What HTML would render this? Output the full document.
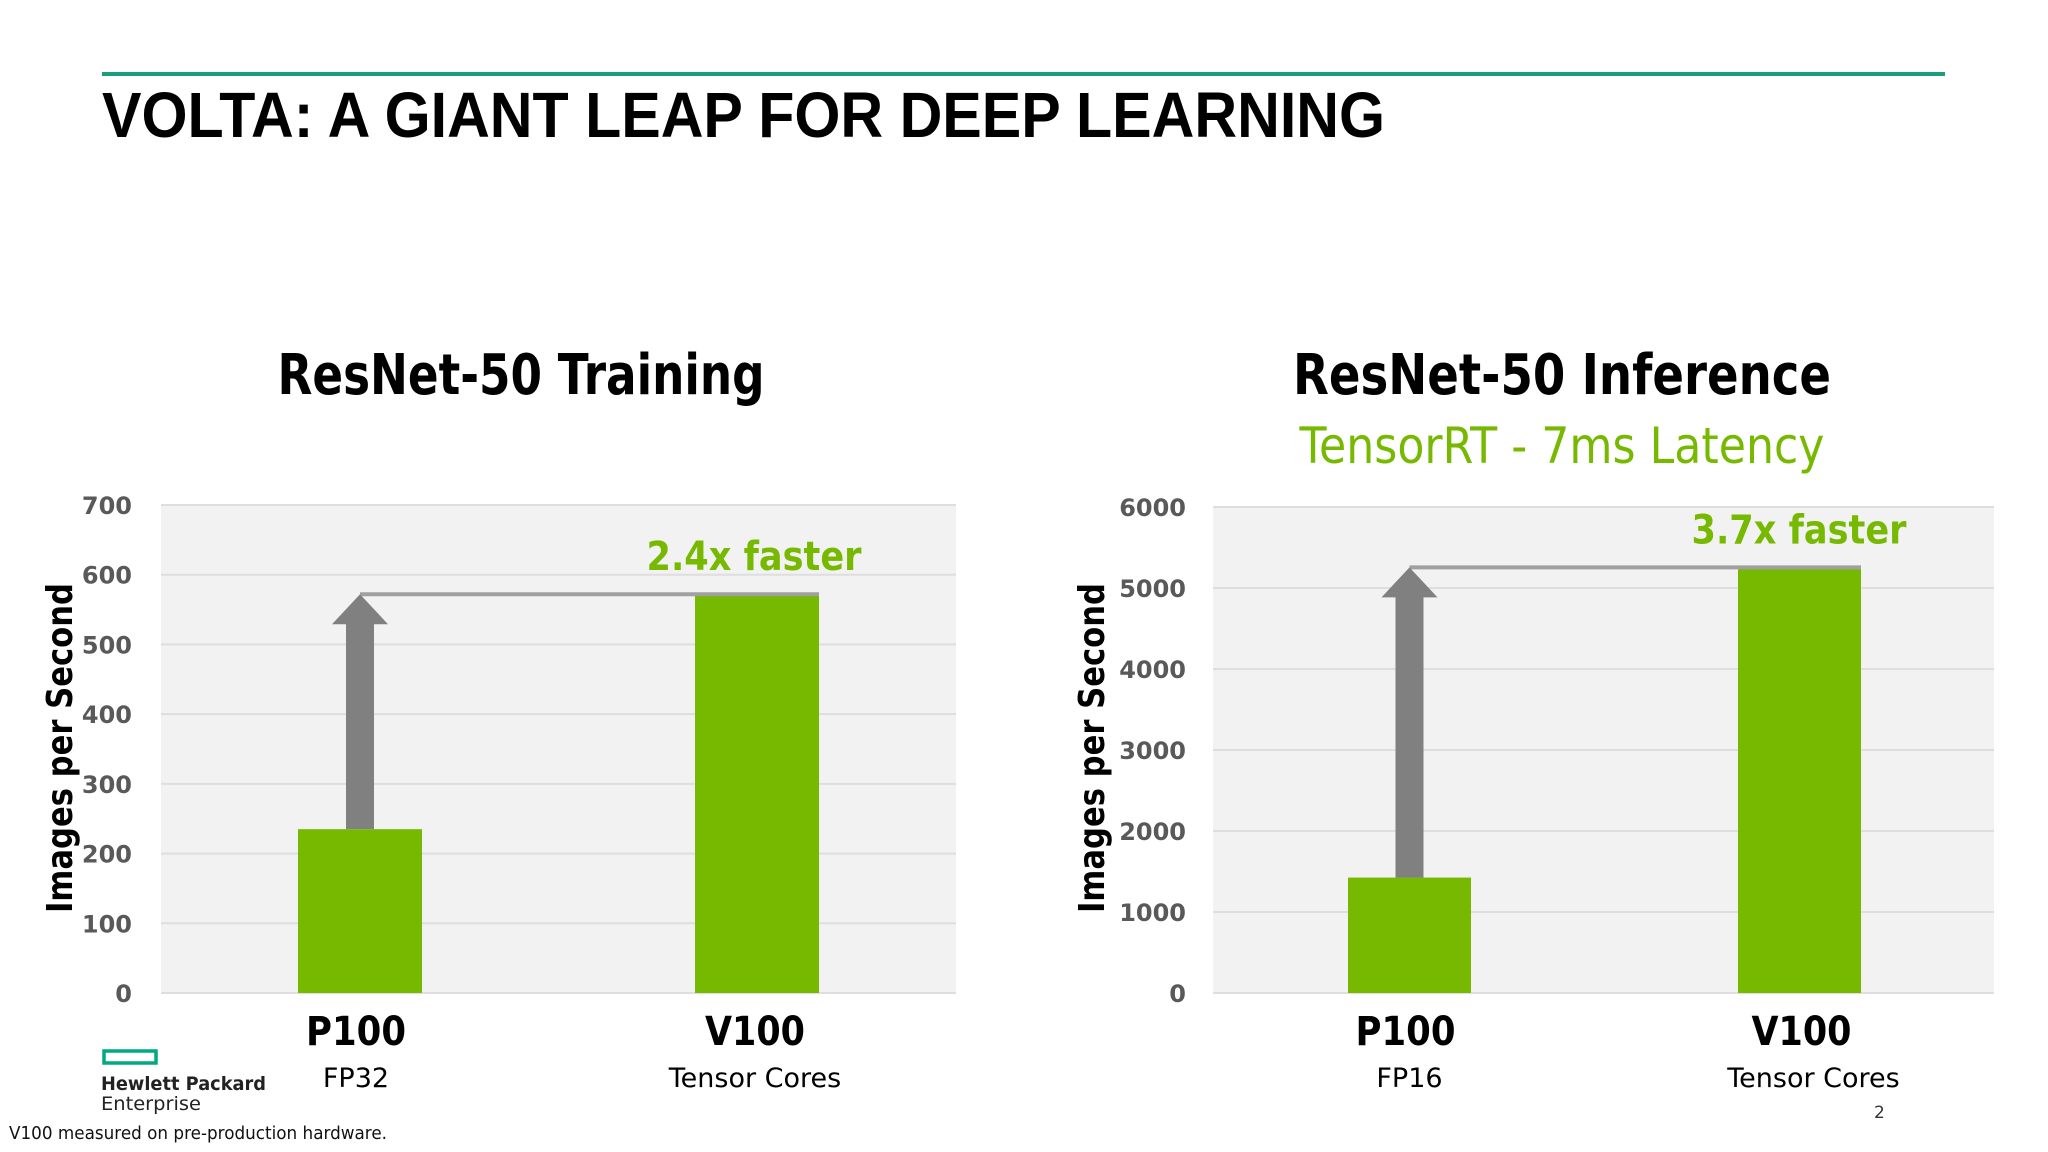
<!DOCTYPE html>
<html><head><meta charset="utf-8"><style>
html,body{margin:0;padding:0;background:#fff;}
svg{display:block;}
</style></head><body>
<svg id="s" width="2048" height="1152" viewBox="0 0 2048 1152" xmlns="http://www.w3.org/2000/svg">
<rect x="102" y="72" width="1843" height="4" fill="#1a9e7e"/>
<text x="102" y="137" font-family="Liberation Sans, sans-serif" font-weight="bold" font-size="64" textLength="1283" lengthAdjust="spacingAndGlyphs" fill="#000">VOLTA: A GIANT LEAP FOR DEEP LEARNING</text>
<g id="c1"></g>
<g id="c2"></g>
<rect x="104" y="1051" width="52" height="12" fill="none" stroke="#01a982" stroke-width="3.5"/>
<text x="101" y="1090" font-family="DejaVu Sans, sans-serif" font-weight="bold" font-size="19" textLength="165" lengthAdjust="spacingAndGlyphs" fill="#222">Hewlett Packard</text>
<text x="101" y="1110" font-family="DejaVu Sans, sans-serif" font-size="19" textLength="100" lengthAdjust="spacingAndGlyphs" fill="#222">Enterprise</text>
<text x="9" y="1139" font-family="DejaVu Sans, sans-serif" font-size="18" textLength="378" lengthAdjust="spacingAndGlyphs" fill="#111">V100 measured on pre-production hardware.</text>
<text x="1874" y="1118" font-family="DejaVu Sans, sans-serif" font-size="17" fill="#333">2</text>
</svg>
<script>
const trainCategories = ["P100", "V100"];
const trainSubLabels = ["FP32", "Tensor Cores"];
const trainValues = [235, 572];
const trainTicks = [0, 100, 200, 300, 400, 500, 600, 700];
const inferCategories = ["P100", "V100"];
const inferSubLabels = ["FP16", "Tensor Cores"];
const inferValues = [1425, 5255];
const inferTicks = [0, 1000, 2000, 3000, 4000, 5000, 6000];

const NS = "http://www.w3.org/2000/svg";
function mk(parent, tag, attrs, text){
  const e = document.createElementNS(NS, tag);
  for (const k in attrs) e.setAttribute(k, attrs[k]);
  if (text !== undefined) e.textContent = text;
  parent.appendChild(e);
  return e;
}
function drawChart(g, cfg, cats, subs, vals, ticks){
  const max = ticks[ticks.length-1];
  const y = v => cfg.bottom - (v/max)*(cfg.bottom-cfg.top);
  const x = i => cfg.barX[i];
  let e;
  e = mk(g,'text',{x:cfg.titleX,y:394,'text-anchor':'middle','font-family':'DejaVu Sans, sans-serif','font-weight':'bold','font-size':56,textLength:cfg.titleW,lengthAdjust:'spacingAndGlyphs',fill:'#000'},cfg.title);
  
  
  if (cfg.subtitle){
    e = mk(g,'text',{x:cfg.titleX,y:463,'text-anchor':'middle','font-family':'DejaVu Sans, sans-serif','font-size':50,textLength:525,lengthAdjust:'spacingAndGlyphs',fill:'#76b900'},cfg.subtitle);
    
    
  }
  e = mk(g,'rect',{x:cfg.left,y:cfg.top,width:cfg.right-cfg.left,height:cfg.bottom-cfg.top,fill:'#f2f2f2'});
  
  
  ticks.forEach(t=>{
    e = mk(g,'line',{x1:cfg.left,x2:cfg.right,y1:y(t),y2:y(t),stroke:'#dedede','stroke-width':2});
    
    
    e = mk(g,'text',{x:cfg.tickX,y:y(t)+9,'text-anchor':'end','font-family':'DejaVu Sans, sans-serif','font-weight':'bold','font-size':24,fill:'#595959'},String(t));
    
    
  });
  e = mk(g,'text',{transform:`translate(${cfg.yTitleX},748) rotate(-90)`,'text-anchor':'middle','font-family':'DejaVu Sans, sans-serif','font-weight':'bold','font-size':36,textLength:330,lengthAdjust:'spacingAndGlyphs',fill:'#000'},'Images per Second');
  
  
  vals.forEach((v,i)=>{
    e = mk(g,'rect',{x:x(i),y:y(v),width:cfg.barW,height:cfg.bottom-y(v),fill:'#76b900'});
    
    
    const cx = x(i)+cfg.barW/2+cfg.labelOff[i];
    e = mk(g,'text',{x:cx,y:cfg.bottom+52,'text-anchor':'middle','font-family':'DejaVu Sans, sans-serif','font-weight':'bold','font-size':40,textLength:100,lengthAdjust:'spacingAndGlyphs',fill:'#000'},cats[i]);
    
    
    e = mk(g,'text',{x:cx+cfg.subOff[i],y:cfg.bottom+94,'text-anchor':'middle','font-family':'DejaVu Sans, sans-serif','font-size':27,fill:'#000'},subs[i]);
    
    
  });
  const ax = x(0)+cfg.barW/2;
  const y0 = y(vals[0]), y1 = y(vals[1]);
  e = mk(g,'line',{x1:ax,x2:x(1)+cfg.barW,y1:y1,y2:y1,stroke:'#a0a0a0','stroke-width':4});
  
  
  e = mk(g,'polygon',{points:`${ax-14},${y0} ${ax+14},${y0} ${ax+14},${y1+30} ${ax+28},${y1+30} ${ax},${y1} ${ax-28},${y1+30} ${ax-14},${y1+30}`,fill:'#808080'});
  
  
  e = mk(g,'text',{x:cfg.noteX,y:y1-cfg.noteDy,'text-anchor':'middle','font-family':'DejaVu Sans, sans-serif','font-weight':'bold','font-size':40,textLength:215,lengthAdjust:'spacingAndGlyphs',fill:'#76b900'},cfg.note);
  
  
}
drawChart(document.getElementById('c1'),{
  title:'ResNet-50 Training',titleX:521,titleW:487,left:161,right:956,top:505,bottom:993,tickX:132,yTitleX:72,
  barX:[298,695],barW:124,labelOff:[-4,-2],subOff:[0,0],noteX:754,noteDy:24,note:'2.4x faster'
}, trainCategories, trainSubLabels, trainValues, trainTicks);
drawChart(document.getElementById('c2'),{
  title:'ResNet-50 Inference',subtitle:'TensorRT - 7ms Latency',titleX:1562,titleW:538,left:1213,right:1994,top:507,bottom:993,tickX:1186,yTitleX:1104,
  barX:[1348,1738],barW:123,labelOff:[-4,2],subOff:[4,12],noteX:1799,noteDy:24,note:'3.7x faster'
}, inferCategories, inferSubLabels, inferValues, inferTicks);
</script>
</body></html>
